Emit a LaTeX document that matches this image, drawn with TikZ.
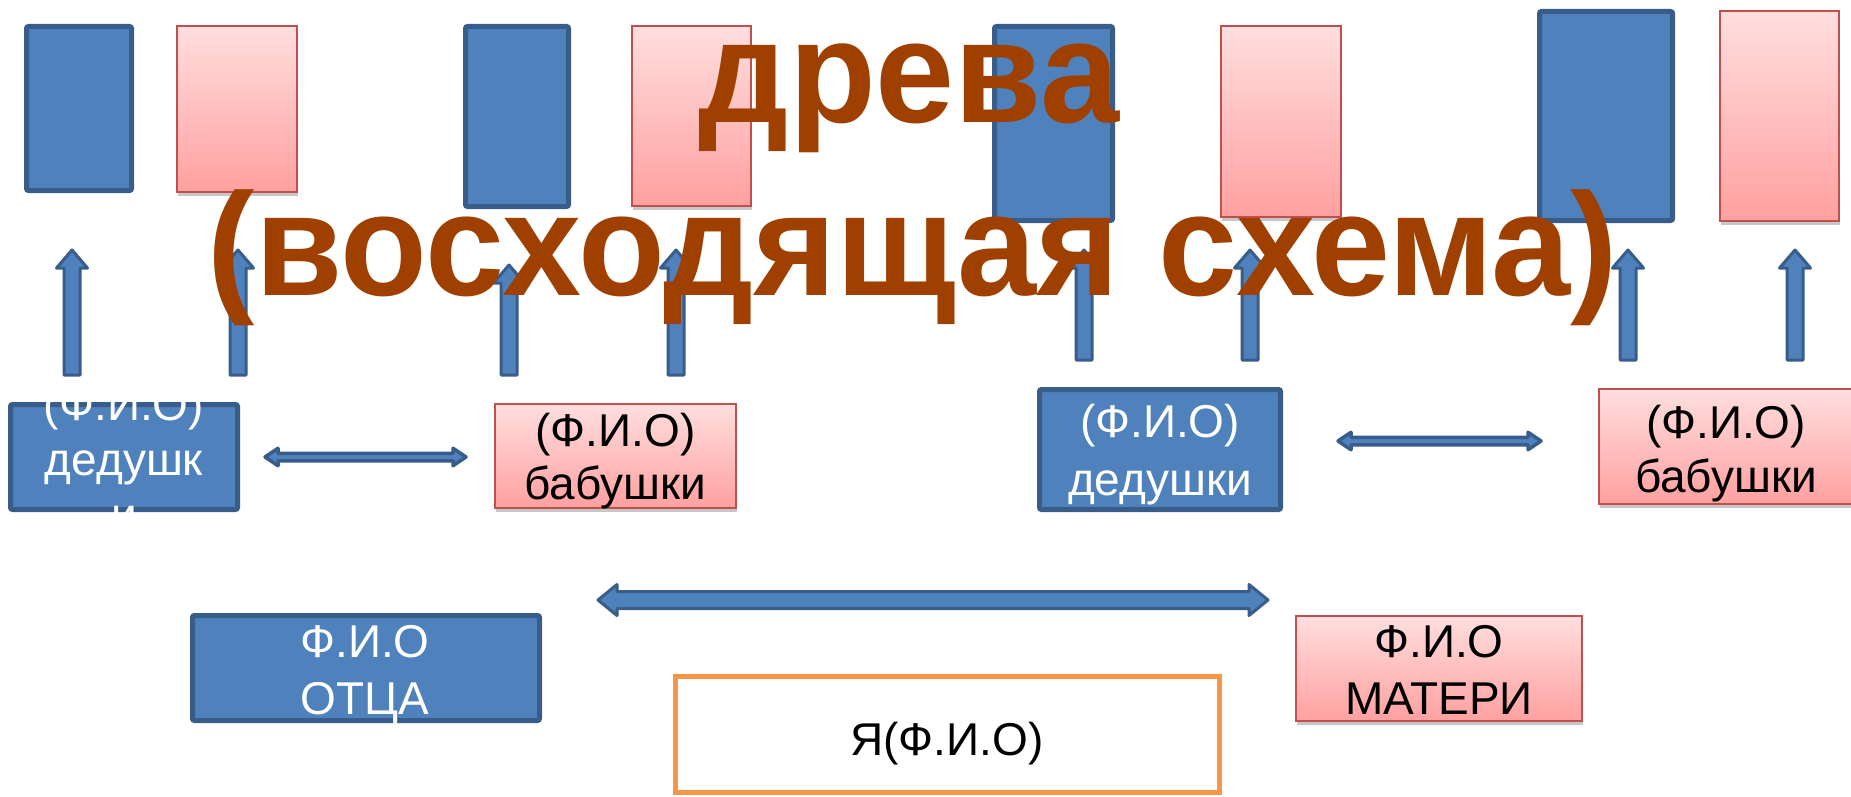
\documentclass[tikz,border=0pt]{standalone}
\usepackage{fontspec}
\setmainfont{Liberation Sans}
\newfontfamily\titlefont[FakeStretch=0.973]{Liberation Sans}
\usetikzlibrary{shadows}
\definecolor{blueFill}{HTML}{4F81BD}
\definecolor{blueLine}{HTML}{385D8A}
\definecolor{pinkTop}{HTML}{FFDEDE}
\definecolor{pinkBot}{HTML}{FFA0A0}
\definecolor{pinkLine}{HTML}{C0504D}
\definecolor{orangeLine}{HTML}{F79646}
\definecolor{titleBrown}{HTML}{A04000}
\tikzset{
  bluebox/.style={draw=blueLine, line width=5pt, fill=blueFill, rounded corners=2pt, inner sep=0pt, outer sep=0pt},
  pinkbox/.style={draw=pinkLine, line width=2pt, top color=pinkTop, bottom color=pinkBot, inner sep=0pt, outer sep=0pt,
    drop shadow={shadow xshift=1pt, shadow yshift=-4pt, opacity=0.22, fill=black}},
  yabox/.style={draw=orangeLine, line width=5pt, fill=white, inner sep=0pt, outer sep=0pt},
  blockarrow/.style={draw=blueLine, fill=blueFill, line join=round},
  txt/.style={font=\fontsize{46}{55}\selectfont, inner sep=0pt, anchor=base},
  wtxt/.style={txt, text=white},
  titletxt/.style={font=\titlefont\fontsize{146}{173}\selectfont\bfseries, text=titleBrown, inner sep=0pt, anchor=base},
}
\begin{document}
\begin{tikzpicture}[x=1pt,y=-1pt]
\fill[white] (0,0) rectangle (1851,797);
\useasboundingbox (0,0) rectangle (1851,797);

% top row of empty boxes
\node[bluebox, minimum width=105pt, minimum height=164pt] (b1) at (79,108.5) {};
\node[pinkbox, minimum width=120pt, minimum height=166pt] (p1) at (237,109) {};
\node[bluebox, minimum width=103pt, minimum height=180pt] (b2) at (517,116.5) {};
\node[pinkbox, minimum width=119pt, minimum height=180pt] (p2) at (691.5,116) {};
\node[bluebox, minimum width=118pt, minimum height=194pt] (b3) at (1053.5,123.5) {};
\node[pinkbox, minimum width=120pt, minimum height=191pt] (p3) at (1281,121.5) {};
\node[bluebox, minimum width=133pt, minimum height=209pt] (b4) at (1606,116) {};
\node[pinkbox, minimum width=119pt, minimum height=210pt] (p4) at (1779.5,116) {};

% upward block arrows
\foreach \c/\t/\b in {72/250/375, 238/250/375, 509/265/375, 676/250/375,
                      1084/250/360, 1250/250/360, 1628/250/360, 1795/250/360}{
  \draw[blockarrow, line width=3pt] (\c-8,\b) -- (\c-8,\t+18) -- (\c-15.5,\t+18) -- (\c,\t)
     -- (\c+15.5,\t+18) -- (\c+8,\t+18) -- (\c+8,\b) -- cycle;
}

% grandparents
\node[bluebox, minimum width=227pt, minimum height=105pt] (ded1) at (124,457) {};
\node[pinkbox, minimum width=241pt, minimum height=104pt] (bab1) at (615.5,456) {};
\node[bluebox, minimum width=241pt, minimum height=120pt] (ded2) at (1160,449.5) {};
\node[pinkbox, minimum width=253pt, minimum height=115pt] (bab2) at (1725.5,446.5) {};

% parents and me
\node[bluebox, minimum width=347pt, minimum height=105pt] (otec) at (366,668) {};
\node[pinkbox, minimum width=286pt, minimum height=105pt] (mat) at (1439,668.5) {};
\node[yabox, minimum width=544pt, minimum height=116pt] (ya) at (947.5,734.5) {};

% horizontal double block arrows
\foreach \l/\r/\y/\s/\h/\L/\w in {265/466/457/3.75/8.75/13/3.5pt,
                                  1338/1541/441/3.75/8.75/13/3.5pt,
                                  598/1268/600/8.5/15.5/19/3pt}{
  \draw[blockarrow, line width=\w] (\l,\y) -- (\l+\L,\y-\h) -- (\l+\L,\y-\s) -- (\r-\L,\y-\s)
     -- (\r-\L,\y-\h) -- (\r,\y) -- (\r-\L,\y+\h) -- (\r-\L,\y+\s) -- (\l+\L,\y+\s)
     -- (\l+\L,\y+\h) -- cycle;
}

% texts
\node[wtxt] (ded1a) at (124,420) {(Ф.И.О)};
\node[wtxt] (ded1b) at (124,475) {дедушк};
\node[wtxt] (ded1c) at (124,530) {и};
\node[txt] (bab1a) at (615.5,446) {(Ф.И.О)};
\node[txt] (bab1b) at (615.5,499) {бабушки};
\node[wtxt] (ded2a) at (1160,437) {(Ф.И.О)};
\node[wtxt] (ded2b) at (1160,495) {дедушки};
\node[txt] (bab2a) at (1726,438) {(Ф.И.О)};
\node[txt] (bab2b) at (1726,492) {бабушки};
\node[wtxt] (oteca) at (365,657) {Ф.И.О};
\node[wtxt] (otecb) at (365,714) {ОТЦА};
\node[txt] (mata) at (1439,657) {Ф.И.О};
\node[txt] (matb) at (1439,714) {МАТЕРИ};
\node[txt] (yat) at (947,755) {Я(Ф.И.О)};

% title
\node[titletxt] (title1) at (909,122) {древа};
\node[titletxt] (title2) at (913,295) {(восходящая схема)};
\end{tikzpicture}
\end{document}
